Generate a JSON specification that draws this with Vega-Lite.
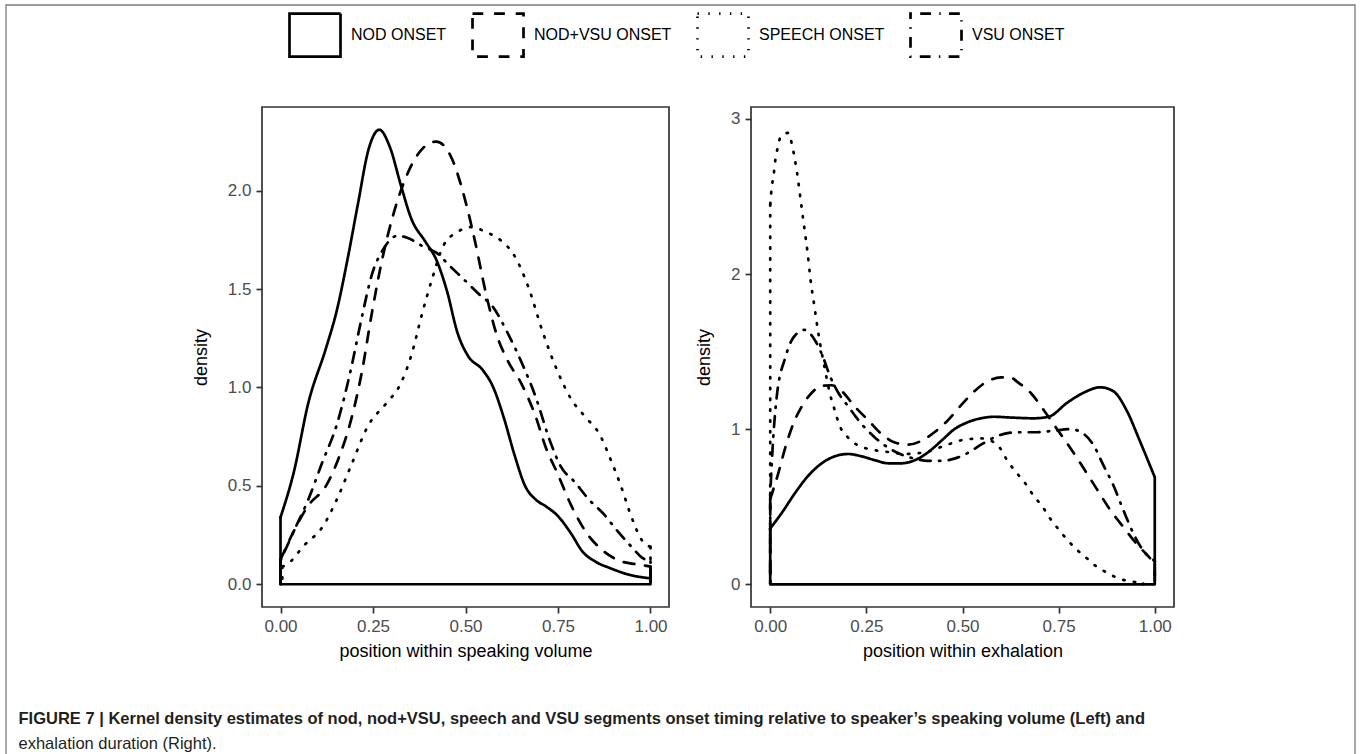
{
  "$schema": "https://vega.github.io/schema/vega-lite/v6.json",
  "padding": {"left": 6, "top": 5, "right": 3, "bottom": 0},
  "datasets": {
    "left": [
      {"g": "NOD ONSET", "x": 0, "y": 0.34}, {"g": "NOD ONSET", "x": 0.036, "y": 0.57}, {"g": "NOD ONSET", "x": 0.075, "y": 0.92}, {"g": "NOD ONSET", "x": 0.123, "y": 1.2}, {"g": "NOD ONSET", "x": 0.152, "y": 1.39}, {"g": "NOD ONSET", "x": 0.181, "y": 1.65}, {"g": "NOD ONSET", "x": 0.209, "y": 1.93}, {"g": "NOD ONSET", "x": 0.238, "y": 2.21}, {"g": "NOD ONSET", "x": 0.267, "y": 2.31}, {"g": "NOD ONSET", "x": 0.296, "y": 2.22}, {"g": "NOD ONSET", "x": 0.325, "y": 2.03}, {"g": "NOD ONSET", "x": 0.353, "y": 1.86}, {"g": "NOD ONSET", "x": 0.392, "y": 1.74}, {"g": "NOD ONSET", "x": 0.421, "y": 1.65}, {"g": "NOD ONSET", "x": 0.45, "y": 1.49}, {"g": "NOD ONSET", "x": 0.478, "y": 1.28}, {"g": "NOD ONSET", "x": 0.507, "y": 1.16}, {"g": "NOD ONSET", "x": 0.546, "y": 1.09}, {"g": "NOD ONSET", "x": 0.574, "y": 1.005}, {"g": "NOD ONSET", "x": 0.603, "y": 0.85}, {"g": "NOD ONSET", "x": 0.632, "y": 0.66}, {"g": "NOD ONSET", "x": 0.661, "y": 0.5}, {"g": "NOD ONSET", "x": 0.69, "y": 0.43}, {"g": "NOD ONSET", "x": 0.718, "y": 0.395}, {"g": "NOD ONSET", "x": 0.747, "y": 0.352}, {"g": "NOD ONSET", "x": 0.786, "y": 0.256}, {"g": "NOD ONSET", "x": 0.815, "y": 0.169}, {"g": "NOD ONSET", "x": 0.853, "y": 0.113}, {"g": "NOD ONSET", "x": 0.891, "y": 0.082}, {"g": "NOD ONSET", "x": 0.939, "y": 0.05}, {"g": "NOD ONSET", "x": 1, "y": 0.03},
      {"g": "NOD+VSU ONSET", "x": 0, "y": 0.125}, {"g": "NOD+VSU ONSET", "x": 0.036, "y": 0.27}, {"g": "NOD+VSU ONSET", "x": 0.075, "y": 0.4}, {"g": "NOD+VSU ONSET", "x": 0.123, "y": 0.5}, {"g": "NOD+VSU ONSET", "x": 0.161, "y": 0.66}, {"g": "NOD+VSU ONSET", "x": 0.19, "y": 0.83}, {"g": "NOD+VSU ONSET", "x": 0.219, "y": 1.07}, {"g": "NOD+VSU ONSET", "x": 0.248, "y": 1.39}, {"g": "NOD+VSU ONSET", "x": 0.277, "y": 1.67}, {"g": "NOD+VSU ONSET", "x": 0.305, "y": 1.88}, {"g": "NOD+VSU ONSET", "x": 0.344, "y": 2.09}, {"g": "NOD+VSU ONSET", "x": 0.382, "y": 2.21}, {"g": "NOD+VSU ONSET", "x": 0.421, "y": 2.25}, {"g": "NOD+VSU ONSET", "x": 0.459, "y": 2.18}, {"g": "NOD+VSU ONSET", "x": 0.498, "y": 1.96}, {"g": "NOD+VSU ONSET", "x": 0.526, "y": 1.74}, {"g": "NOD+VSU ONSET", "x": 0.555, "y": 1.48}, {"g": "NOD+VSU ONSET", "x": 0.584, "y": 1.27}, {"g": "NOD+VSU ONSET", "x": 0.613, "y": 1.14}, {"g": "NOD+VSU ONSET", "x": 0.651, "y": 1.02}, {"g": "NOD+VSU ONSET", "x": 0.69, "y": 0.85}, {"g": "NOD+VSU ONSET", "x": 0.718, "y": 0.69}, {"g": "NOD+VSU ONSET", "x": 0.747, "y": 0.57}, {"g": "NOD+VSU ONSET", "x": 0.786, "y": 0.4}, {"g": "NOD+VSU ONSET", "x": 0.824, "y": 0.27}, {"g": "NOD+VSU ONSET", "x": 0.872, "y": 0.17}, {"g": "NOD+VSU ONSET", "x": 0.92, "y": 0.117}, {"g": "NOD+VSU ONSET", "x": 0.968, "y": 0.1}, {"g": "NOD+VSU ONSET", "x": 1, "y": 0.09},
      {"g": "SPEECH ONSET", "x": 0.005, "y": 0.09}, {"g": "SPEECH ONSET", "x": 0.017, "y": 0.1}, {"g": "SPEECH ONSET", "x": 0.065, "y": 0.2}, {"g": "SPEECH ONSET", "x": 0.113, "y": 0.29}, {"g": "SPEECH ONSET", "x": 0.152, "y": 0.43}, {"g": "SPEECH ONSET", "x": 0.19, "y": 0.6}, {"g": "SPEECH ONSET", "x": 0.238, "y": 0.81}, {"g": "SPEECH ONSET", "x": 0.286, "y": 0.92}, {"g": "SPEECH ONSET", "x": 0.325, "y": 1.02}, {"g": "SPEECH ONSET", "x": 0.353, "y": 1.16}, {"g": "SPEECH ONSET", "x": 0.382, "y": 1.37}, {"g": "SPEECH ONSET", "x": 0.411, "y": 1.56}, {"g": "SPEECH ONSET", "x": 0.44, "y": 1.72}, {"g": "SPEECH ONSET", "x": 0.478, "y": 1.79}, {"g": "SPEECH ONSET", "x": 0.517, "y": 1.815}, {"g": "SPEECH ONSET", "x": 0.555, "y": 1.79}, {"g": "SPEECH ONSET", "x": 0.594, "y": 1.75}, {"g": "SPEECH ONSET", "x": 0.632, "y": 1.67}, {"g": "SPEECH ONSET", "x": 0.67, "y": 1.51}, {"g": "SPEECH ONSET", "x": 0.709, "y": 1.28}, {"g": "SPEECH ONSET", "x": 0.747, "y": 1.09}, {"g": "SPEECH ONSET", "x": 0.786, "y": 0.94}, {"g": "SPEECH ONSET", "x": 0.824, "y": 0.85}, {"g": "SPEECH ONSET", "x": 0.863, "y": 0.76}, {"g": "SPEECH ONSET", "x": 0.891, "y": 0.64}, {"g": "SPEECH ONSET", "x": 0.92, "y": 0.5}, {"g": "SPEECH ONSET", "x": 0.949, "y": 0.34}, {"g": "SPEECH ONSET", "x": 0.978, "y": 0.22}, {"g": "SPEECH ONSET", "x": 1, "y": 0.19},
      {"g": "VSU ONSET", "x": 0, "y": 0.12}, {"g": "VSU ONSET", "x": 0.036, "y": 0.27}, {"g": "VSU ONSET", "x": 0.075, "y": 0.43}, {"g": "VSU ONSET", "x": 0.113, "y": 0.62}, {"g": "VSU ONSET", "x": 0.152, "y": 0.81}, {"g": "VSU ONSET", "x": 0.19, "y": 1.09}, {"g": "VSU ONSET", "x": 0.219, "y": 1.35}, {"g": "VSU ONSET", "x": 0.248, "y": 1.58}, {"g": "VSU ONSET", "x": 0.277, "y": 1.7}, {"g": "VSU ONSET", "x": 0.315, "y": 1.77}, {"g": "VSU ONSET", "x": 0.344, "y": 1.76}, {"g": "VSU ONSET", "x": 0.382, "y": 1.72}, {"g": "VSU ONSET", "x": 0.421, "y": 1.685}, {"g": "VSU ONSET", "x": 0.459, "y": 1.615}, {"g": "VSU ONSET", "x": 0.498, "y": 1.545}, {"g": "VSU ONSET", "x": 0.536, "y": 1.475}, {"g": "VSU ONSET", "x": 0.574, "y": 1.41}, {"g": "VSU ONSET", "x": 0.613, "y": 1.28}, {"g": "VSU ONSET", "x": 0.651, "y": 1.13}, {"g": "VSU ONSET", "x": 0.69, "y": 0.95}, {"g": "VSU ONSET", "x": 0.728, "y": 0.73}, {"g": "VSU ONSET", "x": 0.757, "y": 0.6}, {"g": "VSU ONSET", "x": 0.795, "y": 0.52}, {"g": "VSU ONSET", "x": 0.834, "y": 0.43}, {"g": "VSU ONSET", "x": 0.872, "y": 0.36}, {"g": "VSU ONSET", "x": 0.911, "y": 0.27}, {"g": "VSU ONSET", "x": 0.949, "y": 0.19}, {"g": "VSU ONSET", "x": 0.978, "y": 0.134}, {"g": "VSU ONSET", "x": 1, "y": 0.117}
    ],
    "right": [
      {"g": "NOD ONSET", "x": 0, "y": 0.36}, {"g": "NOD ONSET", "x": 0.03, "y": 0.46}, {"g": "NOD ONSET", "x": 0.065, "y": 0.59}, {"g": "NOD ONSET", "x": 0.099, "y": 0.7}, {"g": "NOD ONSET", "x": 0.134, "y": 0.78}, {"g": "NOD ONSET", "x": 0.168, "y": 0.825}, {"g": "NOD ONSET", "x": 0.203, "y": 0.84}, {"g": "NOD ONSET", "x": 0.237, "y": 0.825}, {"g": "NOD ONSET", "x": 0.272, "y": 0.8}, {"g": "NOD ONSET", "x": 0.307, "y": 0.78}, {"g": "NOD ONSET", "x": 0.341, "y": 0.78}, {"g": "NOD ONSET", "x": 0.376, "y": 0.8}, {"g": "NOD ONSET", "x": 0.41, "y": 0.85}, {"g": "NOD ONSET", "x": 0.445, "y": 0.925}, {"g": "NOD ONSET", "x": 0.479, "y": 1.0}, {"g": "NOD ONSET", "x": 0.514, "y": 1.045}, {"g": "NOD ONSET", "x": 0.548, "y": 1.07}, {"g": "NOD ONSET", "x": 0.583, "y": 1.08}, {"g": "NOD ONSET", "x": 0.625, "y": 1.075}, {"g": "NOD ONSET", "x": 0.685, "y": 1.07}, {"g": "NOD ONSET", "x": 0.724, "y": 1.08}, {"g": "NOD ONSET", "x": 0.772, "y": 1.17}, {"g": "NOD ONSET", "x": 0.815, "y": 1.235}, {"g": "NOD ONSET", "x": 0.858, "y": 1.27}, {"g": "NOD ONSET", "x": 0.892, "y": 1.245}, {"g": "NOD ONSET", "x": 0.927, "y": 1.12}, {"g": "NOD ONSET", "x": 0.961, "y": 0.925}, {"g": "NOD ONSET", "x": 1, "y": 0.69},
      {"g": "NOD+VSU ONSET", "x": 0, "y": 0.55}, {"g": "NOD+VSU ONSET", "x": 0.022, "y": 0.725}, {"g": "NOD+VSU ONSET", "x": 0.039, "y": 0.88}, {"g": "NOD+VSU ONSET", "x": 0.06, "y": 1.035}, {"g": "NOD+VSU ONSET", "x": 0.082, "y": 1.146}, {"g": "NOD+VSU ONSET", "x": 0.108, "y": 1.235}, {"g": "NOD+VSU ONSET", "x": 0.134, "y": 1.28}, {"g": "NOD+VSU ONSET", "x": 0.16, "y": 1.283}, {"g": "NOD+VSU ONSET", "x": 0.186, "y": 1.245}, {"g": "NOD+VSU ONSET", "x": 0.22, "y": 1.146}, {"g": "NOD+VSU ONSET", "x": 0.255, "y": 1.057}, {"g": "NOD+VSU ONSET", "x": 0.289, "y": 0.97}, {"g": "NOD+VSU ONSET", "x": 0.324, "y": 0.914}, {"g": "NOD+VSU ONSET", "x": 0.358, "y": 0.9}, {"g": "NOD+VSU ONSET", "x": 0.393, "y": 0.925}, {"g": "NOD+VSU ONSET", "x": 0.427, "y": 0.98}, {"g": "NOD+VSU ONSET", "x": 0.462, "y": 1.057}, {"g": "NOD+VSU ONSET", "x": 0.497, "y": 1.157}, {"g": "NOD+VSU ONSET", "x": 0.531, "y": 1.245}, {"g": "NOD+VSU ONSET", "x": 0.566, "y": 1.31}, {"g": "NOD+VSU ONSET", "x": 0.6, "y": 1.334}, {"g": "NOD+VSU ONSET", "x": 0.623, "y": 1.335}, {"g": "NOD+VSU ONSET", "x": 0.645, "y": 1.3}, {"g": "NOD+VSU ONSET", "x": 0.677, "y": 1.235}, {"g": "NOD+VSU ONSET", "x": 0.711, "y": 1.124}, {"g": "NOD+VSU ONSET", "x": 0.746, "y": 1.0}, {"g": "NOD+VSU ONSET", "x": 0.78, "y": 0.88}, {"g": "NOD+VSU ONSET", "x": 0.815, "y": 0.748}, {"g": "NOD+VSU ONSET", "x": 0.849, "y": 0.615}, {"g": "NOD+VSU ONSET", "x": 0.884, "y": 0.48}, {"g": "NOD+VSU ONSET", "x": 0.918, "y": 0.37}, {"g": "NOD+VSU ONSET", "x": 0.953, "y": 0.26}, {"g": "NOD+VSU ONSET", "x": 0.987, "y": 0.17}, {"g": "NOD+VSU ONSET", "x": 1, "y": 0.128},
      {"g": "SPEECH ONSET", "x": 0, "y": 2.45}, {"g": "SPEECH ONSET", "x": 0.004, "y": 2.56}, {"g": "SPEECH ONSET", "x": 0.009, "y": 2.64}, {"g": "SPEECH ONSET", "x": 0.013, "y": 2.73}, {"g": "SPEECH ONSET", "x": 0.019, "y": 2.81}, {"g": "SPEECH ONSET", "x": 0.028, "y": 2.89}, {"g": "SPEECH ONSET", "x": 0.047, "y": 2.91}, {"g": "SPEECH ONSET", "x": 0.057, "y": 2.83}, {"g": "SPEECH ONSET", "x": 0.064, "y": 2.74}, {"g": "SPEECH ONSET", "x": 0.07, "y": 2.65}, {"g": "SPEECH ONSET", "x": 0.079, "y": 2.48}, {"g": "SPEECH ONSET", "x": 0.088, "y": 2.31}, {"g": "SPEECH ONSET", "x": 0.097, "y": 2.14}, {"g": "SPEECH ONSET", "x": 0.105, "y": 1.96}, {"g": "SPEECH ONSET", "x": 0.115, "y": 1.79}, {"g": "SPEECH ONSET", "x": 0.125, "y": 1.62}, {"g": "SPEECH ONSET", "x": 0.142, "y": 1.39}, {"g": "SPEECH ONSET", "x": 0.155, "y": 1.23}, {"g": "SPEECH ONSET", "x": 0.168, "y": 1.12}, {"g": "SPEECH ONSET", "x": 0.181, "y": 1.02}, {"g": "SPEECH ONSET", "x": 0.201, "y": 0.95}, {"g": "SPEECH ONSET", "x": 0.225, "y": 0.9}, {"g": "SPEECH ONSET", "x": 0.26, "y": 0.87}, {"g": "SPEECH ONSET", "x": 0.3, "y": 0.855}, {"g": "SPEECH ONSET", "x": 0.35, "y": 0.84}, {"g": "SPEECH ONSET", "x": 0.4, "y": 0.85}, {"g": "SPEECH ONSET", "x": 0.45, "y": 0.89}, {"g": "SPEECH ONSET", "x": 0.5, "y": 0.93}, {"g": "SPEECH ONSET", "x": 0.55, "y": 0.94}, {"g": "SPEECH ONSET", "x": 0.59, "y": 0.9}, {"g": "SPEECH ONSET", "x": 0.621, "y": 0.78}, {"g": "SPEECH ONSET", "x": 0.642, "y": 0.715}, {"g": "SPEECH ONSET", "x": 0.664, "y": 0.648}, {"g": "SPEECH ONSET", "x": 0.685, "y": 0.57}, {"g": "SPEECH ONSET", "x": 0.707, "y": 0.504}, {"g": "SPEECH ONSET", "x": 0.727, "y": 0.427}, {"g": "SPEECH ONSET", "x": 0.748, "y": 0.36}, {"g": "SPEECH ONSET", "x": 0.77, "y": 0.294}, {"g": "SPEECH ONSET", "x": 0.795, "y": 0.228}, {"g": "SPEECH ONSET", "x": 0.821, "y": 0.173}, {"g": "SPEECH ONSET", "x": 0.847, "y": 0.117}, {"g": "SPEECH ONSET", "x": 0.877, "y": 0.073}, {"g": "SPEECH ONSET", "x": 0.908, "y": 0.035}, {"g": "SPEECH ONSET", "x": 0.942, "y": 0.018}, {"g": "SPEECH ONSET", "x": 0.97, "y": 0.005},
      {"g": "VSU ONSET", "x": 0, "y": 0.58}, {"g": "VSU ONSET", "x": 0.008, "y": 0.95}, {"g": "VSU ONSET", "x": 0.017, "y": 1.21}, {"g": "VSU ONSET", "x": 0.039, "y": 1.46}, {"g": "VSU ONSET", "x": 0.06, "y": 1.59}, {"g": "VSU ONSET", "x": 0.089, "y": 1.64}, {"g": "VSU ONSET", "x": 0.117, "y": 1.57}, {"g": "VSU ONSET", "x": 0.138, "y": 1.46}, {"g": "VSU ONSET", "x": 0.155, "y": 1.345}, {"g": "VSU ONSET", "x": 0.177, "y": 1.235}, {"g": "VSU ONSET", "x": 0.203, "y": 1.146}, {"g": "VSU ONSET", "x": 0.237, "y": 1.035}, {"g": "VSU ONSET", "x": 0.272, "y": 0.947}, {"g": "VSU ONSET", "x": 0.307, "y": 0.88}, {"g": "VSU ONSET", "x": 0.341, "y": 0.836}, {"g": "VSU ONSET", "x": 0.376, "y": 0.81}, {"g": "VSU ONSET", "x": 0.41, "y": 0.796}, {"g": "VSU ONSET", "x": 0.445, "y": 0.796}, {"g": "VSU ONSET", "x": 0.479, "y": 0.81}, {"g": "VSU ONSET", "x": 0.514, "y": 0.847}, {"g": "VSU ONSET", "x": 0.548, "y": 0.9}, {"g": "VSU ONSET", "x": 0.583, "y": 0.947}, {"g": "VSU ONSET", "x": 0.617, "y": 0.975}, {"g": "VSU ONSET", "x": 0.651, "y": 0.98}, {"g": "VSU ONSET", "x": 0.694, "y": 0.98}, {"g": "VSU ONSET", "x": 0.737, "y": 0.99}, {"g": "VSU ONSET", "x": 0.78, "y": 1.0}, {"g": "VSU ONSET", "x": 0.815, "y": 0.97}, {"g": "VSU ONSET", "x": 0.84, "y": 0.9}, {"g": "VSU ONSET", "x": 0.866, "y": 0.77}, {"g": "VSU ONSET", "x": 0.892, "y": 0.64}, {"g": "VSU ONSET", "x": 0.918, "y": 0.48}, {"g": "VSU ONSET", "x": 0.944, "y": 0.33}, {"g": "VSU ONSET", "x": 0.97, "y": 0.217}, {"g": "VSU ONSET", "x": 1, "y": 0.15}
    ]
  },
  "hconcat": [
    {
      "title": {
        "text": "FIGURE 7 | Kernel density estimates of nod, nod+VSU, speech and VSU segments onset timing relative to speaker’s speaking volume (Left) and",
        "subtitle": "exhalation duration (Right).",
        "orient": "bottom",
        "anchor": "start",
        "dx": -173,
        "offset": 50,
        "font": "Liberation Sans",
        "fontSize": 16.5,
        "fontWeight": "bold",
        "color": "#231f20",
        "subtitleFont": "Liberation Sans",
        "subtitleFontSize": 16.5,
        "subtitleColor": "#231f20",
        "subtitlePadding": 9
      },
      "spacing": 24,
      "hconcat": [
        {
          "width": 407,
          "height": 500,
          "data": {"name": "left"},
          "layer": [
            {
              "data": {"values": [{}]},
              "mark": {"type": "rule", "color": "black", "strokeWidth": 2.7},
              "encoding": {"x": {"datum": 0, "type": "quantitative"}, "x2": {"datum": 1}, "y": {"datum": 0, "type": "quantitative"}}
            },
            {
              "transform": [
                {"joinaggregate": [{"op": "min", "field": "x", "as": "xmin"}, {"op": "max", "field": "x", "as": "xmax"}], "groupby": ["g"]},
                {"filter": "datum.x == datum.xmin || datum.x == datum.xmax"}
              ],
              "mark": {"type": "rule", "color": "black", "strokeWidth": 2.7, "strokeCap": "round"},
              "encoding": {
                "x": {"field": "x", "type": "quantitative"},
                "y": {"field": "y", "type": "quantitative"},
                "y2": {"datum": 0},
                "strokeDash": {"field": "g", "type": "nominal"}
              }
            },
            {
              "mark": {"type": "line", "color": "black", "strokeWidth": 2.7, "strokeCap": "round", "strokeJoin": "round", "interpolate": "monotone"},
              "encoding": {
                "x": {"field": "x", "type": "quantitative"},
                "y": {"field": "y", "type": "quantitative"},
                "strokeDash": {"field": "g", "type": "nominal"}
              }
            },
            {
              "mark": {"type": "point", "opacity": 0},
              "encoding": {
                "x": {"field": "x", "type": "quantitative"},
                "y": {"field": "y", "type": "quantitative"},
                "color": {
                  "field": "y", "type": "quantitative",
                  "scale": {"domain": [0, 3], "range": ["rgba(255,255,255,0)", "rgba(255,255,255,0)"]},
                  "legend": {"title": null, "labelExpr": "''", "labelOpacity": 0, "labelFontSize": 1, "labelOffset": 0, "labelLimit": 1, "tickCount": 2, "orient": "none", "legendX": -256, "legendY": -102, "direction": "vertical", "gradientLength": 752, "gradientThickness": 1349, "gradientStrokeColor": "#7a7a7a", "gradientStrokeWidth": 1.3, "padding": 0}
                }
              }
            }
          ],
          "encoding": {
            "x": {"type": "quantitative", "scale": {"domain": [-0.05, 1.05], "nice": false, "zero": false}, "axis": {"values": [0, 0.25, 0.5, 0.75, 1], "format": ".2f", "title": "position within speaking volume"}},
            "y": {"type": "quantitative", "scale": {"domain": [-0.1155, 2.4255], "nice": false, "zero": false}, "axis": {"values": [0, 0.5, 1, 1.5, 2], "format": ".1f", "title": "density"}},
            "strokeDash": {
              "type": "nominal",
              "scale": {"domain": ["NOD ONSET", "NOD+VSU ONSET", "SPEECH ONSET", "VSU ONSET"], "range": [[1, 0], [10.8, 10.8], [1.4, 9.4], [1.4, 8.3, 10.8, 8.3]]},
              "legend": {"title": null, "orient": "none", "legendX": 26, "legendY": -99, "direction": "horizontal", "symbolType": "M-1,-0.843H1V0.843H-1Z", "symbolSize": 2601, "symbolStrokeWidth": 2.7, "symbolStrokeColor": "black", "symbolFillColor": "white", "labelFontSize": 16, "labelColor": "black", "labelOffset": 9, "columnPadding": 20, "padding": 0}
            }
          }
        },
        {
          "width": 423,
          "height": 500,
          "data": {"name": "right"},
          "layer": [
            {
              "data": {"values": [{}]},
              "mark": {"type": "rule", "color": "black", "strokeWidth": 2.7},
              "encoding": {"x": {"datum": 0, "type": "quantitative"}, "x2": {"datum": 1}, "y": {"datum": 0, "type": "quantitative"}}
            },
            {
              "transform": [
                {"joinaggregate": [{"op": "min", "field": "x", "as": "xmin"}, {"op": "max", "field": "x", "as": "xmax"}], "groupby": ["g"]},
                {"filter": "datum.x == datum.xmin || datum.x == datum.xmax"}
              ],
              "mark": {"type": "rule", "color": "black", "strokeWidth": 2.7, "strokeCap": "round"},
              "encoding": {
                "x": {"field": "x", "type": "quantitative"},
                "y": {"field": "y", "type": "quantitative"},
                "y2": {"datum": 0},
                "strokeDash": {"field": "g", "type": "nominal"}
              }
            },
            {
              "mark": {"type": "line", "color": "black", "strokeWidth": 2.7, "strokeCap": "round", "strokeJoin": "round", "interpolate": "monotone"},
              "encoding": {
                "x": {"field": "x", "type": "quantitative"},
                "y": {"field": "y", "type": "quantitative"},
                "strokeDash": {"field": "g", "type": "nominal"}
              }
            }
          ],
          "encoding": {
            "x": {"type": "quantitative", "scale": {"domain": [-0.05, 1.05], "nice": false, "zero": false}, "axis": {"values": [0, 0.25, 0.5, 0.75, 1], "format": ".2f", "title": "position within exhalation"}},
            "y": {"type": "quantitative", "scale": {"domain": [-0.1465, 3.077], "nice": false, "zero": false}, "axis": {"values": [0, 1, 2, 3], "format": "d", "title": "density"}},
            "strokeDash": {
              "type": "nominal",
              "scale": {"domain": ["NOD ONSET", "NOD+VSU ONSET", "SPEECH ONSET", "VSU ONSET"], "range": [[1, 0], [10.8, 10.8], [1.4, 9.4], [1.4, 8.3, 10.8, 8.3]]},
              "legend": {"title": null, "orient": "none", "legendX": 26, "legendY": -99, "direction": "horizontal", "symbolType": "M-1,-0.843H1V0.843H-1Z", "symbolSize": 2601, "symbolStrokeWidth": 2.7, "symbolStrokeColor": "black", "symbolFillColor": "white", "labelFontSize": 16, "labelColor": "black", "labelOffset": 9, "columnPadding": 20, "padding": 0}
            }
          }
        }
      ]
    }
  ],
  "config": {
    "font": "Liberation Sans",
    "background": "white",
    "view": {"stroke": "#333333", "strokeWidth": 1.7},
    "axis": {"grid": false, "domain": false, "tickColor": "#333333", "tickWidth": 1.7, "tickSize": 6, "labelPadding": 5, "labelColor": "#4d4d4d", "labelFontSize": 17, "labelOverlap": false, "labelFlush": false, "titleFontSize": 18, "titleFontWeight": "normal", "titleColor": "black"},
    "axisX": {"titlePadding": 8},
    "axisY": {"titlePadding": 17}
  }
}
